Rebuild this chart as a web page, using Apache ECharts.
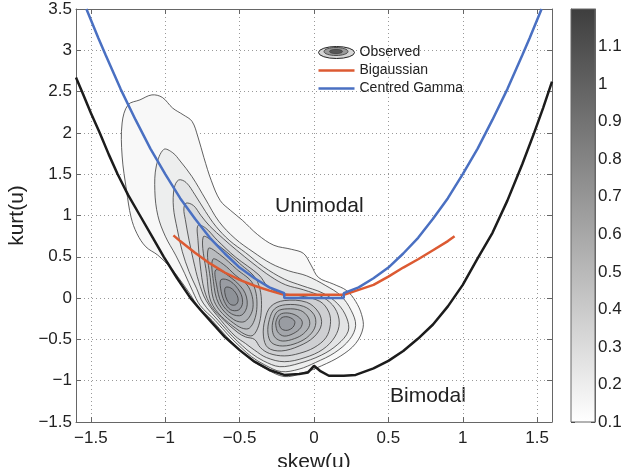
<!DOCTYPE html>
<html>
<head>
<meta charset="utf-8">
<script src="https://cdn.jsdelivr.net/npm/echarts@6/dist/echarts.min.js"></script>
<style>
html, body { margin: 0; padding: 0; background: #fff; }
#chart { width: 628px; height: 467px; }
</style>
</head>
<body>
<div id="chart"></div>
<script>
// bimodal boundary (black), [skew, kurt]
const boundary = [
	[-1.6,2.67],[-1.56,2.5],[-1.5,2.24],[-1.44,2.0],[-1.38,1.74],[-1.32,1.5],[-1.25,1.25],[-1.17,1.0],
	[-1.09,0.75],[-1.01,0.5],[-0.92,0.24],[-0.83,0.0],[-0.76,-0.15],[-0.7,-0.27],[-0.6,-0.47],[-0.5,-0.63],
	[-0.4,-0.77],[-0.3,-0.87],[-0.2,-0.93],[-0.1,-0.92],[-0.04,-0.9],[0,-0.82],[0.04,-0.88],[0.1,-0.94],
	[0.2,-0.94],[0.28,-0.93],[0.4,-0.85],[0.5,-0.76],[0.6,-0.64],[0.7,-0.49],[0.8,-0.32],[0.9,-0.1],
	[1.0,0.16],[1.1,0.48],[1.2,0.79],[1.3,1.18],[1.4,1.62],[1.48,2.0],[1.54,2.3],[1.6,2.62]
];
// centred gamma (blue)
const centredGamma = [
	[-1.53,3.5],[-1.45,3.15],[-1.4,2.94],[-1.3,2.53],[-1.2,2.16],[-1.1,1.81],[-1.0,1.5],[-0.9,1.21],
	[-0.8,0.96],[-0.7,0.73],[-0.6,0.54],[-0.5,0.37],[-0.4,0.24],[-0.3,0.13],[-0.2,0.06],[-0.2,0],
	[0.2,0],[0.2,0.06],[0.3,0.13],[0.4,0.24],[0.5,0.37],[0.6,0.54],[0.7,0.73],[0.8,0.96],
	[0.9,1.21],[1.0,1.5],[1.1,1.81],[1.2,2.16],[1.3,2.53],[1.4,2.94],[1.45,3.15],[1.53,3.5]
];
// bigaussian (red)
const bigaussian = [
	[-0.945,0.76],[-0.9,0.69],[-0.8,0.55],[-0.7,0.42],[-0.6,0.31],[-0.5,0.22],[-0.4,0.15],[-0.3,0.09],
	[-0.2,0.04],[0.2,0.04],[0.3,0.1],[0.4,0.16],[0.5,0.26],[0.6,0.37],[0.7,0.47],[0.8,0.58],[0.9,0.69],[0.945,0.75]
];

// observed density contours, one ring per array
const ring010 = [[-1.09,2.46],[-1.02,2.43],[-0.95,2.3],[-0.88,2.22],[-0.82,2.14],[-0.78,1.95],[-0.74,1.7],[-0.69,1.42],[-0.63,1.18],[-0.56,1.06],[-0.48,0.94],[-0.38,0.77],[-0.27,0.64],[-0.15,0.59],[-0.07,0.54],[-0.02,0.4],[0.03,0.25],[0.13,0.17],[0.22,0.09],[0.28,-0.04],[0.32,-0.2],[0.33,-0.36],[0.28,-0.55],[0.18,-0.7],[0.05,-0.82],[-0.08,-0.91],[-0.2,-0.95],[-0.32,-0.86],[-0.42,-0.75],[-0.5,-0.62],[-0.59,-0.46],[-0.685,-0.27],[-0.78,-0.1],[-0.83,0.04],[-0.9,0.22],[-0.97,0.38],[-1.05,0.52],[-1.13,0.62],[-1.19,0.78],[-1.23,0.98],[-1.26,1.3],[-1.29,1.72],[-1.29,2.12],[-1.25,2.34],[-1.17,2.4]];
const ring020 = [[-1.01,1.8],[-0.95,1.76],[-0.9,1.66],[-0.82,1.47],[-0.73,1.2],[-0.64,0.93],[-0.53,0.72],[-0.41,0.56],[-0.29,0.42],[-0.17,0.33],[-0.05,0.27],[0.08,0.15],[0.18,0.03],[0.25,-0.15],[0.28,-0.33],[0.24,-0.5],[0.14,-0.66],[0.01,-0.78],[-0.1,-0.86],[-0.22,-0.89],[-0.33,-0.81],[-0.42,-0.71],[-0.49,-0.6],[-0.57,-0.46],[-0.665,-0.27],[-0.765,-0.09],[-0.815,0.08],[-0.87,0.3],[-0.93,0.52],[-1.0,0.75],[-1.05,1.0],[-1.07,1.3],[-1.06,1.6]];
const ring030 = [[-0.91,1.43],[-0.86,1.4],[-0.8,1.25],[-0.73,1.05],[-0.66,0.87],[-0.57,0.7],[-0.46,0.55],[-0.34,0.38],[-0.2,0.23],[-0.08,0.15],[0.06,0.06],[0.16,-0.07],[0.22,-0.24],[0.23,-0.4],[0.16,-0.56],[0.05,-0.69],[-0.1,-0.79],[-0.23,-0.83],[-0.34,-0.76],[-0.42,-0.67],[-0.48,-0.58],[-0.55,-0.46],[-0.645,-0.27],[-0.745,-0.06],[-0.79,0.12],[-0.84,0.32],[-0.885,0.56],[-0.92,0.84],[-0.945,1.1],[-0.94,1.33]];
const ring040 = [[-0.86,1.15],[-0.81,1.12],[-0.76,1.0],[-0.7,0.87],[-0.61,0.72],[-0.52,0.58],[-0.41,0.42],[-0.29,0.26],[-0.19,0.16],[-0.07,0.1],[0.06,0.01],[0.14,-0.12],[0.17,-0.3],[0.14,-0.47],[0.06,-0.62],[-0.06,-0.72],[-0.2,-0.77],[-0.32,-0.72],[-0.4,-0.63],[-0.46,-0.55],[-0.53,-0.46],[-0.625,-0.27],[-0.725,-0.03],[-0.775,0.2],[-0.81,0.45],[-0.84,0.7],[-0.865,0.95],[-0.875,1.08]];
const ring050 = [[-0.78,0.88],[-0.73,0.85],[-0.65,0.7],[-0.53,0.5],[-0.37,0.28],[-0.31,0.14],[-0.22,0.06],[-0.1,0.03],[0.04,-0.04],[0.1,-0.17],[0.11,-0.32],[0.08,-0.48],[0.0,-0.6],[-0.1,-0.67],[-0.2,-0.7],[-0.3,-0.67],[-0.36,-0.6],[-0.4,-0.5],[-0.46,-0.47],[-0.51,-0.42],[-0.605,-0.27],[-0.69,-0.1],[-0.738,0.1],[-0.765,0.4],[-0.78,0.7]];
// left mode rings
const m1r060 = [[-0.745,0.74],[-0.66,0.66],[-0.5,0.42],[-0.38,0.2],[-0.355,-0.17],[-0.408,-0.448],[-0.5,-0.4],[-0.68,-0.09],[-0.722,0.3]];
const m1r070 = [[-0.71,0.6],[-0.635,0.53],[-0.52,0.35],[-0.41,0.17],[-0.385,-0.14],[-0.435,-0.364],[-0.52,-0.33],[-0.66,-0.08],[-0.698,0.25]];
const m1r080 = [[-0.68,0.47],[-0.61,0.41],[-0.53,0.28],[-0.44,0.136],[-0.41,-0.11],[-0.462,-0.28],[-0.54,-0.26],[-0.64,-0.07],[-0.676,0.2]];
const m1r090 = [[-0.661,0.34],[-0.59,0.29],[-0.475,0.1],[-0.449,-0.081],[-0.486,-0.206],[-0.555,-0.19],[-0.622,-0.06],[-0.655,0.16]];
const m1r100 = [[-0.624,0.225],[-0.563,0.205],[-0.498,0.075],[-0.48,-0.055],[-0.506,-0.143],[-0.562,-0.14],[-0.603,-0.04],[-0.628,0.12]];
const m1r110 = [[-0.594,0.13],[-0.558,0.121],[-0.522,0.051],[-0.51,-0.027],[-0.526,-0.08],[-0.56,-0.078],[-0.585,-0.022],[-0.6,0.07]];
// right mode rings
const m2r060 = [[-0.33,-0.26],[-0.29,-0.1],[-0.2,-0.03],[-0.05,-0.05],[0.03,-0.17],[0.05,-0.32],[0.0,-0.47],[-0.1,-0.58],[-0.22,-0.64],[-0.31,-0.6],[-0.34,-0.46]];
const m2r070 = [[-0.3,-0.26],[-0.265,-0.13],[-0.19,-0.08],[-0.07,-0.1],[0.0,-0.2],[0.01,-0.33],[-0.03,-0.45],[-0.11,-0.54],[-0.21,-0.58],[-0.285,-0.54],[-0.31,-0.42]];
const m2r080 = [[-0.275,-0.27],[-0.245,-0.16],[-0.18,-0.13],[-0.09,-0.15],[-0.04,-0.23],[-0.03,-0.33],[-0.07,-0.43],[-0.13,-0.49],[-0.21,-0.52],[-0.26,-0.48],[-0.28,-0.39]];
const m2r090 = [[-0.255,-0.28],[-0.23,-0.2],[-0.18,-0.18],[-0.12,-0.21],[-0.08,-0.28],[-0.09,-0.36],[-0.14,-0.43],[-0.2,-0.46],[-0.24,-0.42],[-0.255,-0.35]];
const m2r100 = [[-0.235,-0.29],[-0.215,-0.235],[-0.17,-0.23],[-0.13,-0.28],[-0.14,-0.35],[-0.18,-0.39],[-0.22,-0.37]];

const contourRings = [ring010, ring020, ring030, ring040, ring050, m1r060, m2r060, m1r070, m2r070, m1r080, m2r080, m1r090, m2r090, m1r100, m2r100, m1r110];
const contourLevels = [0.1, 0.2, 0.3, 0.4, 0.5, 0.6, 0.6, 0.7, 0.7, 0.8, 0.8, 0.9, 0.9, 1.0, 1.0, 1.1];
const colorbarRange = [0.1, 1.2];

const FONT = '"Liberation Sans", Arial, sans-serif';
const minus = v => String(v).replace('-', '\u2212');
const LINE_ICON = 'path://M0,0h36v2.5h-36z';

// fill colour of a contour level (white -> cool grey)
function levelColor(lv) {
	let t = (lv - 0.1) / 1.0;
	let r = Math.round(248 - t * 106), g = Math.round(248 - t * 102), b = Math.round(248 - t * 96);
	return 'rgb(' + r + ',' + g + ',' + b + ')';
}

let myChart = echarts.init(document.getElementById('chart'));
let axisGrey = '#666';
let option = {
	animation: false,
	textStyle: { fontFamily: FONT },
	grid: [
		{ left: 76, right: 76, top: 9, bottom: 45, outerBoundsMode: 'none', containLabel: false },
		{ left: 571, right: 33, top: 9, bottom: 45, outerBoundsMode: 'none', containLabel: false }
	],
	legend: {
		orient: 'vertical', left: 318, top: 45.5, padding: 0,
		itemWidth: 36, itemHeight: 12, itemGap: 4,
		selectedMode: false,
		textStyle: { fontSize: 14, color: '#222', fontFamily: FONT },
		data: [
			{ name: 'Observed', icon: 'path://M0,6A18,6,0,1,1,36,6A18,6,0,1,1,0,6Z',
				itemStyle: { color: '#d6d6d6', borderColor: '#222', borderWidth: 1 } },
			{ name: 'Bigaussian', icon: LINE_ICON, itemStyle: { color: '#dc5a32' } },
			{ name: 'Centred Gamma', icon: LINE_ICON, itemStyle: { color: '#4a70c2' } }
		]
	},
	xAxis: [
		{ gridIndex: 0, type: 'value', min: -1.6, max: 1.6, position: 'bottom',
			name: 'skew(u)', nameLocation: 'middle', nameGap: 23,
			nameTextStyle: { fontSize: 21, color: '#222', fontFamily: FONT },
			axisLine: { show: true, onZero: false, lineStyle: { color: axisGrey } },
			axisTick: { inside: true, length: 5, lineStyle: { color: axisGrey } },
			axisLabel: { fontSize: 17, color: '#222', margin: 8, showMinLabel: false, showMaxLabel: false, formatter: minus },
			splitLine: { show: true, lineStyle: { type: [1, 3], color: '#999' } } },
		{ gridIndex: 0, type: 'value', min: -1.6, max: 1.6, position: 'top',
			axisLine: { show: true, onZero: false, lineStyle: { color: axisGrey } },
			axisTick: { inside: true, length: 5, lineStyle: { color: axisGrey } },
			axisLabel: { show: false }, splitLine: { show: false } },
		{ gridIndex: 1, type: 'value', min: 0, max: 1, show: false }
	],
	yAxis: [
		{ gridIndex: 0, type: 'value', min: -1.5, max: 3.5, interval: 0.5, position: 'left',
			name: 'kurt(u)', nameLocation: 'middle', nameGap: 44,
			nameTextStyle: { fontSize: 21, color: '#222', fontFamily: FONT },
			axisLine: { show: true, onZero: false, lineStyle: { color: axisGrey } },
			axisTick: { inside: true, length: 5, lineStyle: { color: axisGrey } },
			axisLabel: { fontSize: 17, color: '#222', margin: 4, formatter: minus },
			splitLine: { show: true, lineStyle: { type: [1, 3], color: '#999' } } },
		{ gridIndex: 0, type: 'value', min: -1.5, max: 3.5, interval: 0.5, position: 'right',
			axisLine: { show: true, onZero: false, lineStyle: { color: axisGrey } },
			axisTick: { inside: true, length: 5, lineStyle: { color: axisGrey } },
			axisLabel: { show: false }, splitLine: { show: false } },
		{ gridIndex: 1, type: 'value', min: colorbarRange[0], max: colorbarRange[1], interval: 0.1, position: 'right',
			axisLine: { show: true, onZero: false, lineStyle: { color: axisGrey } },
			axisTick: { inside: true, length: 4, lineStyle: { color: '#333' } },
			axisLabel: { fontSize: 17, color: '#222', margin: 3, showMaxLabel: false },
			splitLine: { show: false } },
		{ gridIndex: 1, type: 'value', min: colorbarRange[0], max: colorbarRange[1], interval: 0.1, position: 'left',
			axisLine: { show: true, onZero: false, lineStyle: { color: axisGrey } },
			axisTick: { inside: true, length: 4, lineStyle: { color: '#333' } },
			axisLabel: { show: false }, splitLine: { show: false } }
	],
	graphic: [
		{ type: 'ellipse', shape: { cx: 336, cy: 51.5, rx: 12, ry: 4 }, style: { fill: '#9a9a9a', stroke: '#333', lineWidth: 0.8 }, z: 100 },
		{ type: 'ellipse', shape: { cx: 336, cy: 51.5, rx: 6.5, ry: 2.2 }, style: { fill: '#555', stroke: '#333', lineWidth: 0.6 }, z: 101 },
		{ type: 'text', left: 275, top: 196, style: { text: 'Unimodal', fontSize: 21, fill: '#222', font: '21px ' + FONT } },
		{ type: 'text', left: 390, top: 386, style: { text: 'Bimodal', fontSize: 21, fill: '#222', font: '21px ' + FONT } }
	],
	series: [
		{
			name: 'Observed', type: 'custom', xAxisIndex: 0, yAxisIndex: 0, z: 2,
			data: contourRings.map(r => [r[0][0], r[0][1]]),
			renderItem: function (params, api) {
				let ring = contourRings[params.dataIndex];
				let pts = ring.map(p => api.coord(p));
				return {
					type: 'polygon',
					shape: { points: pts, smooth: 0.35 },
					style: { fill: levelColor(contourLevels[params.dataIndex]), stroke: '#3a3a3a', lineWidth: 0.8 }
				};
			}
		},
		{ name: 'Bimodal boundary', type: 'line', xAxisIndex: 0, yAxisIndex: 0, z: 4,
			data: boundary, symbol: 'none', lineStyle: { color: '#1c1c1c', width: 2.5 } },
		{ name: 'Bigaussian', type: 'line', xAxisIndex: 0, yAxisIndex: 0, z: 5,
			data: bigaussian, symbol: 'none', color: '#dc5a32', lineStyle: { color: '#dc5a32', width: 2.5 } },
		{ name: 'Centred Gamma', type: 'line', xAxisIndex: 0, yAxisIndex: 0, z: 6,
			data: centredGamma, symbol: 'none', color: '#4a70c2', lineStyle: { color: '#4a70c2', width: 2.5 } },
		{
			name: 'colorbar', type: 'custom', xAxisIndex: 2, yAxisIndex: 2,
			data: [[0, colorbarRange[0]]],
			renderItem: function (params, api) {
				let p0 = api.coord([0, colorbarRange[1]]);
				let p1 = api.coord([1, colorbarRange[0]]);
				return {
					type: 'rect',
					shape: { x: p0[0], y: p0[1], width: p1[0] - p0[0], height: p1[1] - p0[1] },
					style: {
						fill: new echarts.graphic.LinearGradient(0, 0, 0, 1, [
							{ offset: 0, color: '#3e3e3e' },
							{ offset: 1, color: '#ffffff' }
						]),
						stroke: axisGrey, lineWidth: 1
					}
				};
			}
		}
	]
};
myChart.setOption(option);
</script>
</body>
</html>
